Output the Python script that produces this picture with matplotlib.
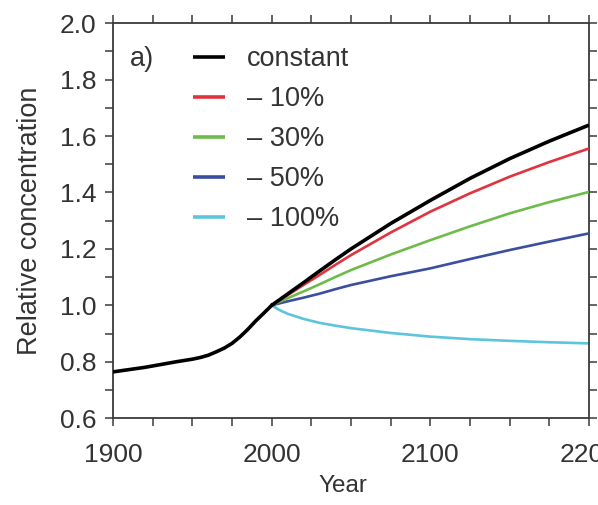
import matplotlib
matplotlib.use("Agg")
import matplotlib.pyplot as plt
from matplotlib.ticker import MultipleLocator, FormatStrFormatter

plt.rcParams['font.family'] = ['Liberation Sans', 'DejaVu Sans']

# Observed history (relative to year 2000)
hist_years = [1900, 1910, 1920, 1930, 1940, 1950, 1955, 1960, 1965, 1970,
              1975, 1980, 1985, 1990, 1995, 2000]
hist_conc = [0.764, 0.772, 0.780, 0.790, 0.800, 0.809, 0.815, 0.823, 0.835,
             0.848, 0.865, 0.888, 0.915, 0.945, 0.972, 1.000]

# Emission scenarios after 2000
future_years = [2000, 2005, 2010, 2020, 2030, 2040, 2050, 2075, 2100, 2125, 2150, 2175, 2200]
conc_constant = [1.0, 1.020, 1.040, 1.080, 1.121, 1.161, 1.200, 1.290, 1.372, 1.450, 1.520, 1.582, 1.639]
conc_minus10 = [1.0, 1.018, 1.036, 1.072, 1.107, 1.143, 1.178, 1.258, 1.332, 1.397, 1.456, 1.508, 1.556]
conc_minus30 = [1.0, 1.013, 1.025, 1.049, 1.074, 1.100, 1.125, 1.180, 1.231, 1.280, 1.326, 1.366, 1.402]
conc_minus50 = [1.0, 1.007, 1.014, 1.027, 1.041, 1.057, 1.072, 1.103, 1.131, 1.164, 1.196, 1.226, 1.255]
conc_minus100 = [1.0, 0.983, 0.970, 0.952, 0.938, 0.928, 0.919, 0.902, 0.889, 0.880, 0.874, 0.869, 0.865]

labels = ['constant', '\u2013 10%', '\u2013 30%', '\u2013 50%', '\u2013 100%']
colors = ['#000000', '#e0333c', '#6dbb4b', '#3b4ea0', '#5cc4dc']
series = [conc_constant, conc_minus10, conc_minus30, conc_minus50, conc_minus100]

x_ticks = [1900, 2000, 2100, 2200]
y_ticks = [0.6, 0.8, 1.0, 1.2, 1.4, 1.6, 1.8, 2.0]

text_color = '#333333'
spine_color = '#3a3a3a'

fig = plt.figure(figsize=(5.98, 5.05), dpi=100)
ax = fig.add_axes([0.189, 0.172, 0.796, 0.782])

handles = []
for vals, col, lab, z in zip(series, colors, labels, [6, 5, 4, 3, 2]):
    lw = 2.6 if col == '#000000' else 1.9
    h, = ax.plot(future_years, vals, color=col, lw=lw, label=lab, zorder=z,
                 solid_capstyle='butt')
    handles.append(h)
ax.plot(hist_years, hist_conc, color='#000000', lw=2.6, zorder=7)

ax.set_xlim(1900, 2200)
ax.set_ylim(0.6, 2.0)
ax.set_xticks(x_ticks)
ax.set_yticks(y_ticks)
ax.xaxis.set_minor_locator(MultipleLocator(25))
ax.yaxis.set_minor_locator(MultipleLocator(0.1))
ax.yaxis.set_major_formatter(FormatStrFormatter('%.1f'))

for s in ax.spines.values():
    s.set_color(spine_color)
    s.set_linewidth(1.3)

ax.tick_params(which='both', direction='out', length=6, width=1.1,
               color=spine_color, top=True, right=True,
               labeltop=False, labelright=False)
ax.tick_params(axis='x', which='major', labelsize=19, pad=12, labelcolor=text_color)
ax.tick_params(axis='y', which='major', labelsize=19, pad=6, labelcolor=text_color)

ax.set_xlabel('Year', fontsize=17.5, color=text_color, labelpad=6, x=0.483)
ax.set_ylabel('Relative concentration', fontsize=19.5, color=text_color, labelpad=12)

ax.text(0.036, 0.910, 'a)', transform=ax.transAxes, fontsize=19.5,
        color=text_color, va='center', ha='left')

leg = ax.legend(handles=handles, loc='upper left', bbox_to_anchor=(0.168, 0.942),
                frameon=False, fontsize=19.5, handlelength=1.2, handletextpad=0.8,
                labelspacing=0.52, borderpad=0, borderaxespad=0)
for t in leg.get_texts():
    t.set_color(text_color)
for lh in leg.get_lines():
    lh.set_linewidth(2.6)

fig.savefig('out.png', dpi=100, facecolor='white')
